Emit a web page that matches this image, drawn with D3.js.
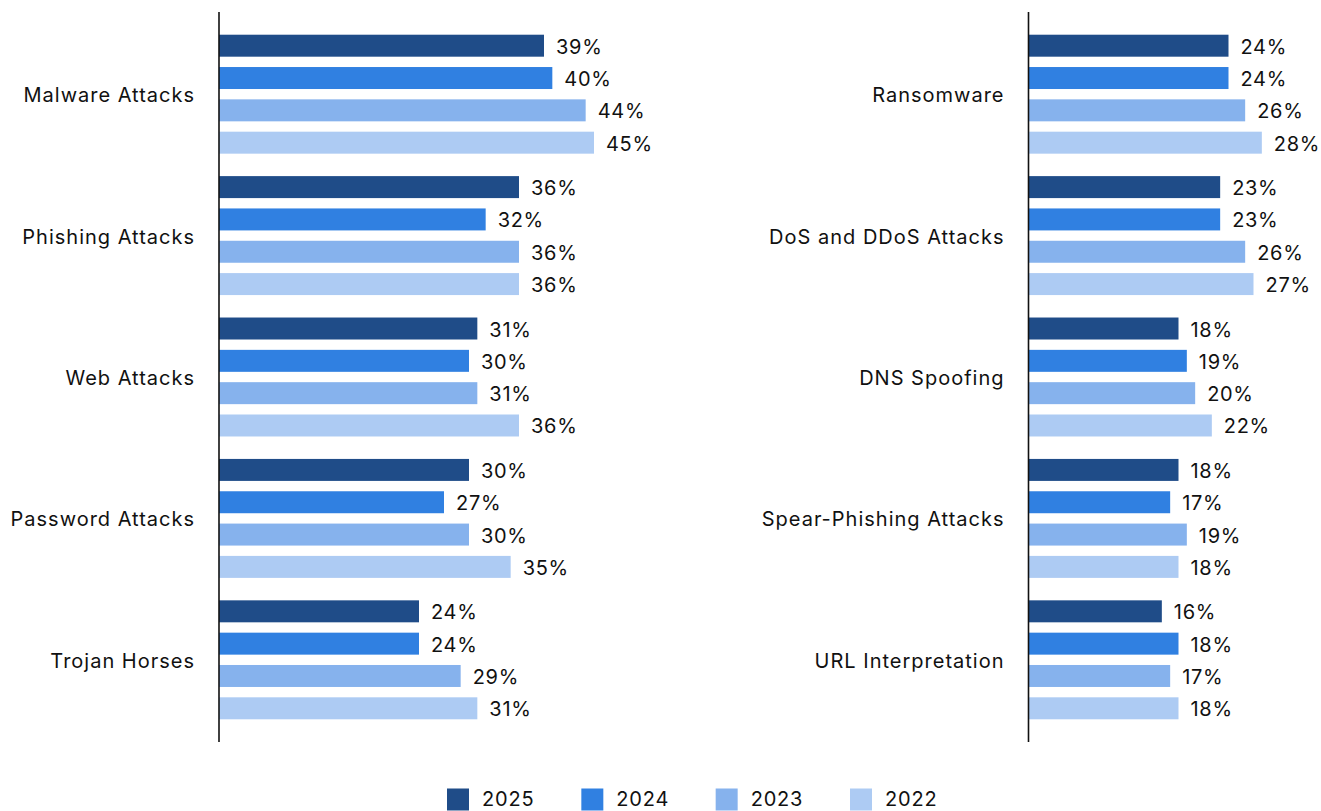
<!DOCTYPE html>
<html>
<head>
<meta charset="utf-8">
<script src="https://cdn.jsdelivr.net/npm/d3@7"></script>
<style>
  html, body { margin: 0; padding: 0; background: #fff; }
  svg { display: block; font-family: Inter, "Noto Sans", sans-serif; }
</style>
</head>
<body>
<svg id="chart" width="1321" height="811"></svg>
<script>
// Attack types shown in each panel
const leftCategories = ["Malware Attacks", "Phishing Attacks", "Web Attacks", "Password Attacks", "Trojan Horses"];
const rightCategories = ["Ransomware", "DoS and DDoS Attacks", "DNS Spoofing", "Spear-Phishing Attacks", "URL Interpretation"];

// Survey years (series)
const years = ["2025", "2024", "2023", "2022"];
const yearColors = ["#1f4c88", "#3080e1", "#86b2ed", "#adcbf3"];

// Share of respondents (%) per category, ordered 2025, 2024, 2023, 2022
const leftValues = [
  [39, 40, 44, 45],
  [36, 32, 36, 36],
  [31, 30, 31, 36],
  [30, 27, 30, 35],
  [24, 24, 29, 31]
];
const rightValues = [
  [24, 24, 26, 28],
  [23, 23, 26, 27],
  [18, 19, 20, 22],
  [18, 17, 19, 18],
  [16, 18, 17, 18]
];

const svg = d3.select("#chart");
const axisTop = 12, axisBottom = 742;

function drawPanel(axisX, categories, values) {
  const g = svg.append("g");

  const x = d3.scaleLinear().domain([0, 48]).range([axisX, axisX + 400]);

  const y = d3.scaleBand()
    .domain(categories)
    .range([axisTop, axisBottom])
    .paddingInner(0.0856)
    .paddingOuter(0.124);

  const yInner = d3.scaleBand()
    .domain(years)
    .range([0, y.bandwidth()])
    .paddingInner(0.32)
    .paddingOuter(0.16);

  const groups = g.selectAll("g.cat")
    .data(categories.map((c, i) => ({ cat: c, vals: values[i] })))
    .join("g")
    .attr("class", "cat")
    .attr("transform", d => `translate(0,${y(d.cat)})`);

  groups.selectAll("rect")
    .data(d => d.vals.map((v, j) => ({ year: years[j], v, j })))
    .join("rect")
    .attr("x", x(0))
    .attr("y", d => yInner(d.year))
    .attr("width", d => x(d.v) - x(0))
    .attr("height", yInner.bandwidth())
    .attr("fill", d => yearColors[d.j]);

  groups.selectAll("text.val")
    .data(d => d.vals.map((v, j) => ({ year: years[j], v, j })))
    .join("text")
    .attr("class", "val")
    .attr("x", d => x(d.v) + 12)
    .attr("y", d => yInner(d.year) + yInner.bandwidth() / 2)
    .attr("dy", "0.4em")
    .attr("font-size", 20)
    .attr("letter-spacing", 0.7)
    .attr("fill", "#111")
    .text(d => d.v + "%");

  // category labels on the left of the axis
  const axis = d3.axisLeft(y).tickSize(0).tickPadding(24);
  const ax = g.append("g").attr("transform", `translate(${axisX},0)`).call(axis);
  ax.select(".domain").remove();
  ax.selectAll("text")
    .attr("font-size", 20)
    .attr("letter-spacing", 1)
    .attr("dy", "0.4em")
    .attr("font-family", "Inter, 'Noto Sans', sans-serif")
    .attr("fill", "#111");

  g.append("line")
    .attr("x1", axisX).attr("x2", axisX)
    .attr("y1", axisTop).attr("y2", axisBottom)
    .attr("stroke", "#111")
    .attr("stroke-width", 1.6);
}

drawPanel(219, leftCategories, leftValues);
drawPanel(1028.5, rightCategories, rightValues);

// Legend
const legendX = d3.scalePoint().domain(years).range([447, 850]);
const legend = svg.append("g").selectAll("g")
  .data(years.map((yr, i) => ({ yr, i })))
  .join("g")
  .attr("transform", d => `translate(${legendX(d.yr)},788.5)`);
legend.append("rect")
  .attr("width", 22).attr("height", 22)
  .attr("fill", d => yearColors[d.i]);
legend.append("text")
  .attr("x", 35).attr("y", 17.5)
  .attr("font-size", 20)
  .attr("letter-spacing", 0.8)
  .attr("fill", "#111")
  .text(d => d.yr);
</script>
</body>
</html>
